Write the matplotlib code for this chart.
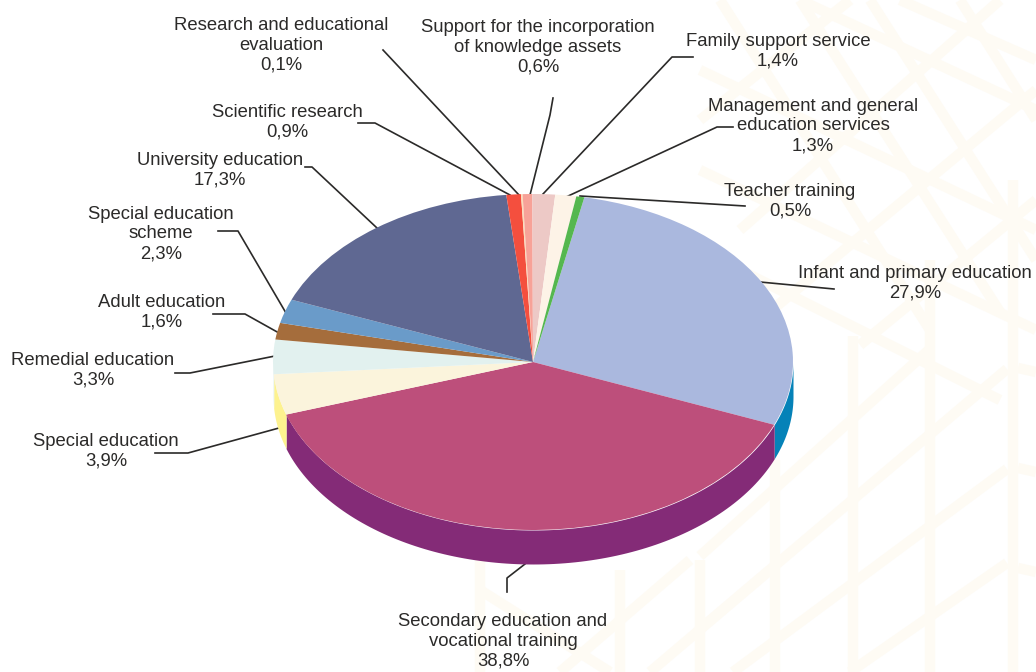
import numpy as np
import matplotlib
matplotlib.use("Agg")
import matplotlib.pyplot as plt

plt.rcParams["font.family"] = ["Liberation Sans", "DejaVu Sans"]

categories = ["Infant and primary education", "Secondary education and\nvocational training",
	"Special education", "Remedial education", "Adult education", "Special education\nscheme",
	"University education", "Scientific research", "Research and educational\nevaluation",
	"Support for the incorporation\nof knowledge assets", "Family support service",
	"Management and general\neducation services", "Teacher training"]
values = [27.9, 38.8, 3.9, 3.3, 1.6, 2.3, 17.3, 0.9, 0.1, 0.6, 1.4, 1.3, 0.5]
top_colors = ["#aab8de", "#bd4f7b", "#fbf4dc", "#e2f1ef", "#a56d3c", "#6a9bc9", "#5f6892",
	"#f44f3e", "#fbdcb8", "#f7a298", "#edc9c6", "#fdf3e7", "#55b74f"]
side_colors = ["#0582b8", "#842b77", "#fdf28f", "#e2f1ef", "#a56d3c", "#6a9bc9", "#5f6892",
	"#f44f3e", "#fbdcb8", "#f7a298", "#edc9c6", "#fdf3e7", "#55b74f"]

# label centre in pixels, then the leader line
label_pos = [(915, 283), (503, 641), (106, 451), (93, 370), (162, 312), (161, 234), (220, 170),
	(287, 122), (281, 45), (538, 47), (778, 51), (813, 126), (790, 201)]
leaders = [
	[(834, 289), (760, 282)],
	[(507, 592), (507, 578), (525, 564)],
	[(155, 453), (188, 453), (279, 428)],
	[(175, 373), (190, 373), (275, 356)],
	[(213, 314), (245, 314), (279, 333)],
	[(218, 231), (238, 231), (286, 313)],
	[(305, 167), (312, 167), (377, 228)],
	[(358, 123), (375, 123), (510, 195)],
	[(383, 50), (519, 195)],
	[(553, 98), (550, 115), (530, 195)],
	[(693, 57), (672, 57), (543, 194)],
	[(733, 127), (717, 127), (566, 197)],
	[(745, 206), (580, 196)],
]

# the faint lattice behind the chart
lattice = [
	[(775, 460), (775, 672)], [(853, 336), (853, 672)], [(930, 260), (930, 672)], [(1013, 180), (1013, 672)],
	[(700, 556), (930, 349)], [(700, 629), (1007, 369)], [(733, 672), (1007, 469)], [(850, 672), (1007, 563)],
	[(1018, 368), (1036, 372)], [(1018, 468), (1036, 472)], [(1018, 568), (1036, 572)],
	[(700, 70), (1036, 230)], [(700, 170), (1036, 330)], [(700, 250), (1000, 400)],
	[(800, 0), (1036, 110)], [(900, 0), (1036, 60)],
	[(800, 0), (1000, 312)], [(720, 0), (930, 330)], [(870, 0), (1036, 260)], [(960, 0), (1036, 120)],
	[(700, 120), (850, 0)], [(740, 230), (1000, 0)], [(760, 320), (1036, 90)], [(860, 345), (1036, 200)],
	[(480, 560), (480, 672)], [(620, 570), (620, 672)], [(700, 560), (700, 672)],
	[(480, 590), (610, 672)], [(560, 672), (690, 560)], [(650, 672), (770, 570)],
]

CX, CY = 533.0, 362.0
RX, RY = 260.0, 168.0
DEPTH = 34.0 / RY
START = 78.6

fig = plt.figure(figsize=(10.36, 6.72), dpi=100, facecolor="white")

# pixel axes for background, leaders and text
px = fig.add_axes([0, 0, 1, 1], zorder=0)
px.set_xlim(0, 1036)
px.set_ylim(672, 0)
px.axis("off")
for seg in lattice:
	xs, ys = zip(*seg)
	px.plot(xs, ys, color="#fefbf4", lw=7.5, solid_capstyle="butt", zorder=1)

for name, val, pos, line in zip(categories, values, label_pos, leaders):
	xs, ys = zip(*line)
	px.plot(xs, ys, color="#2b2a29", lw=1.2, zorder=2)
	px.text(pos[0], pos[1], "%s\n%s%%" % (name, ("%.1f" % val).replace(".", ",")),
		ha="center", va="center", fontsize=13.3, color="#2b2a29", linespacing=1.22, zorder=3)

# pie axes, one unit is RX pixels across and RY pixels down
ax = fig.add_axes([0, 0, 1, 1], zorder=1)
ax.patch.set_alpha(0)
ax.pie(values, colors=top_colors, startangle=START, counterclock=False, radius=1.0,
	normalize=True, wedgeprops={"linewidth": 0})
ax.set_aspect("auto")
ax.set_xlim(-CX / RX, (1036 - CX) / RX)
ax.set_ylim((CY - 672) / RY, CY / RY)
ax.axis("off")

# rim of the pie, only the part facing us
edges = START - np.cumsum([0] + values) / sum(values) * 360.0
for i in range(len(values)):
	a0, a1 = edges[i], edges[i + 1]
	lo, hi = max(a1, -180.0), min(a0, 0.0)
	if lo >= hi:
		continue
	t = np.radians(np.linspace(lo, hi, 120))
	ax.fill_between(np.cos(t), np.sin(t), np.sin(t) - DEPTH, color=side_colors[i], lw=0, zorder=0)

fig.savefig("out.png", dpi=100)
